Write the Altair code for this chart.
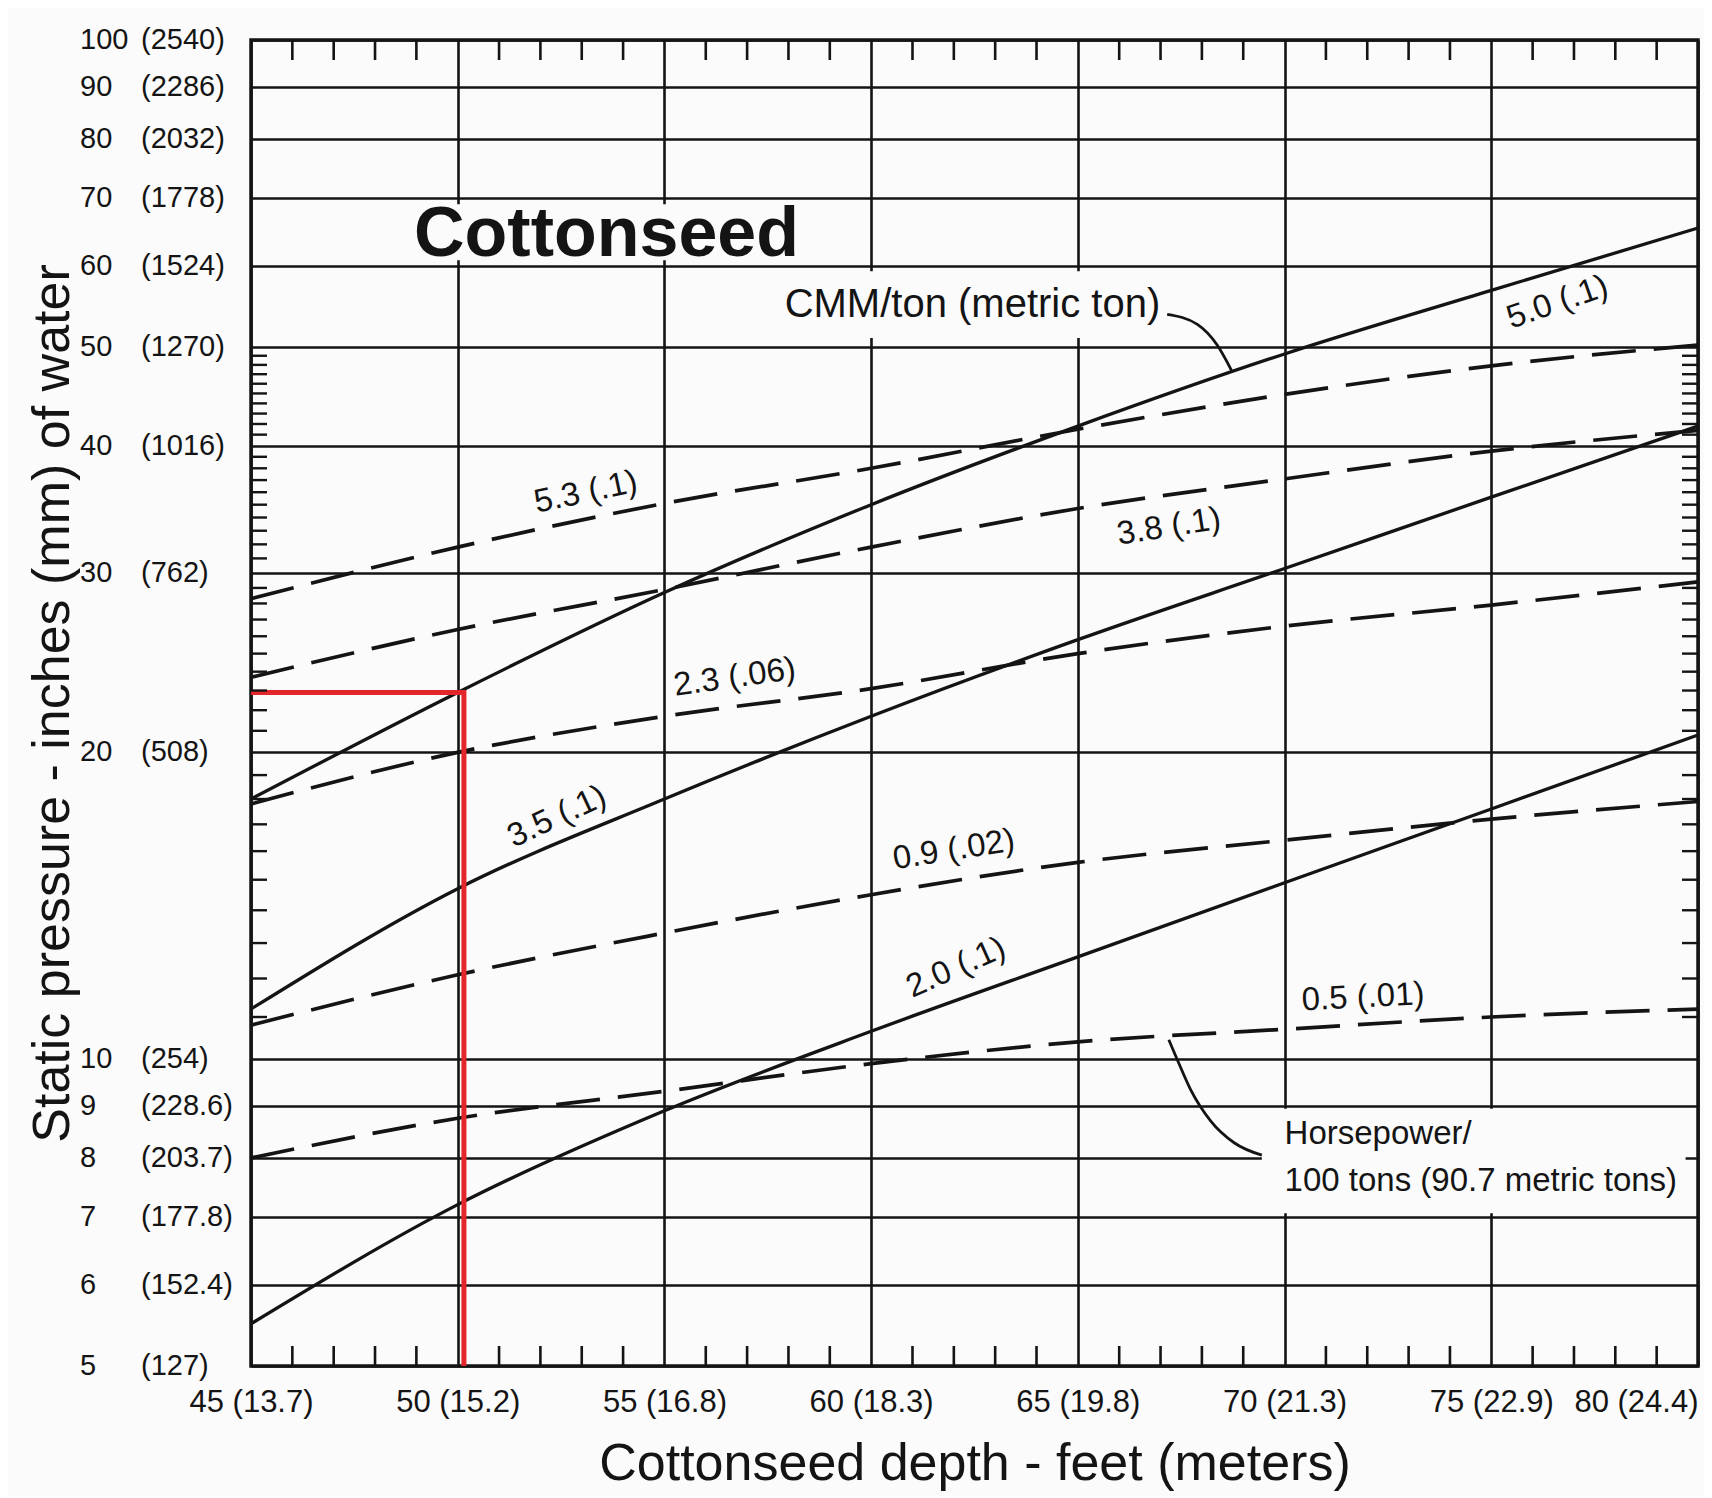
import altair as alt
import pandas as pd

# ---------------- data ----------------
depth_ft = [45, 50, 55, 60, 65, 70, 75, 80]

# CMM/ton (solid) curves, static pressure in inches of water
cmm_5_0 = [18.0, 22.9, 28.7, 35.0, 41.8, 49.2, 56.8, 65.4]
cmm_3_5 = [11.2, 14.7, 18.0, 21.7, 25.8, 30.3, 35.6, 41.8]
cmm_2_0 = [5.5, 7.2, 8.9, 10.65, 12.6, 14.9, 17.6, 20.8]

# Horsepower / 100 tons (dashed) curves
hp_5_3 = [28.3, 31.8, 35.1, 38.0, 41.5, 44.9, 47.9, 50.2]
hp_3_8 = [23.7, 26.4, 28.9, 31.8, 34.7, 37.1, 39.5, 41.4]
hp_2_3 = [17.8, 20.0, 21.7, 23.1, 25.0, 26.6, 27.9, 29.4]
hp_0_9 = [10.8, 12.1, 13.3, 14.5, 15.6, 16.4, 17.2, 17.9]
hp_0_5 = [8.0, 8.75, 9.3, 9.9, 10.4, 10.7, 11.0, 11.2]

# curve labels
label_text = ["5.3 (.1)", "3.8 (.1)", "2.3 (.06)", "3.5 (.1)", "0.9 (.02)", "2.0 (.1)", "0.5 (.01)", "5.0 (.1)"]
label_ft = [53.1, 67.2, 56.7, 52.4, 62.0, 62.05, 71.9, 76.6]
label_val = [36.0, 33.3, 23.7, 17.3, 16.05, 12.3, 11.5, 55.3]
label_angle = [348, 351, 352, 335, 351, 336, 357, 341]

# axis ticks
x_tick_ft = [45, 50, 55, 60, 65, 70, 75, 80]
x_tick_m = ["13.7", "15.2", "16.8", "18.3", "19.8", "21.3", "22.9", "24.4"]
y_tick_in = [100, 90, 80, 70, 60, 50, 40, 30, 20, 10, 9, 8, 7, 6, 5]
y_tick_mm = ["(2540)", "(2286)", "(2032)", "(1778)", "(1524)", "(1270)", "(1016)", "(762)",
             "(508)", "(254)", "(228.6)", "(203.7)", "(177.8)", "(152.4)", "(127)"]
minor_ft = [f for f in range(46, 80) if f % 5 != 0]
minor_in = [v for v in range(11, 50) if v % 10 != 0]

# red reading example
red_ft = [45, 50.15, 50.15]
red_val = [22.9, 22.9, 5]

# annotation arrows
cmm_arrow_ft = [67.16, 67.89, 68.37, 68.74]
cmm_arrow_val = [53.8, 52.6, 50.2, 47.2]
hp_arrow_ft = [67.2, 67.4, 67.73, 68.21, 68.78, 69.45]
hp_arrow_val = [10.45, 10.0, 9.33, 8.7, 8.28, 8.05]

# ---------------- styling ----------------
INK = "#141414"
BG = "#fbfbfb"
RED = "#e3262b"
SANS = "Liberation Sans, Arial, Helvetica, sans-serif"
W, H = 1447, 1326

xs = alt.Scale(domain=[45, 80], nice=False, zero=False)
ys = alt.Scale(type="log", domain=[5, 100], nice=False)


def long_df(series):
    rows = []
    for name, vals in series:
        for d, v in zip(depth_ft, vals):
            rows.append({"series": name, "ft": d, "val": v})
    return pd.DataFrame(rows)


solid_df = long_df([("5.0", cmm_5_0), ("3.5", cmm_3_5), ("2.0", cmm_2_0)])
dash_df = long_df([("5.3", hp_5_3), ("3.8", hp_3_8), ("2.3", hp_2_3), ("0.9", hp_0_9), ("0.5", hp_0_5)])

x_label_expr = " : ".join(
    f"datum.value == {f} ? '{f} ({m})'" for f, m in zip(x_tick_ft, x_tick_m)
) + " : ''"

x_axis = alt.Axis(
    values=x_tick_ft, grid=True, gridColor=INK, gridWidth=2.6, gridOpacity=1,
    ticks=False, domain=False, labelExpr=x_label_expr, labelFont=SANS,
    labelFontSize=31, labelColor=INK, labelPadding=21, labelFlush=False,
    labelAlign={"condition": {"test": "datum.value == 80", "value": "right"}, "value": "center"},
    title="Cottonseed depth - feet (meters)", titleFont=SANS, titleFontSize=52,
    titleFontWeight="normal", titleColor=INK, titleY=113, titleBaseline="alphabetic",
)
y_axis = alt.Axis(
    values=y_tick_in, grid=True, gridColor=INK, gridWidth=2.6, gridOpacity=1,
    labels=False, ticks=False, domain=False,
    title="Static pressure - inches (mm) of water", titleFont=SANS, titleFontSize=52,
    titleFontWeight="normal", titleColor=INK, titleAngle=270, titleX=-199, titleY=H / 2,
    titleAlign="center", titleBaseline="middle",
)


def X(field="ft"):
    return alt.X(f"{field}:Q", scale=xs, axis=x_axis)


def Y(field="val"):
    return alt.Y(f"{field}:Q", scale=ys, axis=y_axis)


solid = alt.Chart(solid_df).mark_line(interpolate="monotone", color=INK, strokeWidth=3.3).encode(
    x=X(), y=Y(), detail="series:N",
)
dashed = alt.Chart(dash_df).mark_line(
    interpolate="monotone", color=INK, strokeWidth=3.7, strokeDash=[44, 18]
).encode(x=X(), y=Y(), detail="series:N")

# boxes that blank out grid lines behind annotation text
box_df = pd.DataFrame({
    "ft": [48.0, 57.5, 69.45], "ft2": [58.8, 67.4, 79.7],
    "val": [60.8, 51.0, 7.06], "val2": [69.0, 59.3, 8.94],
})
boxes = alt.Chart(box_df).mark_rect(color=BG).encode(
    x=X(), x2="ft2:Q", y=Y(), y2="val2:Q",
)

lab_df = pd.DataFrame({"t": label_text, "ft": label_ft, "val": label_val, "a": label_angle})
labels = alt.Chart(lab_df).mark_text(
    font=SANS, fontSize=33, color=INK, align="center", baseline="middle"
).encode(x=X(), y=Y(), text="t:N", angle=alt.Angle("a:Q", scale=None))

ytl = pd.DataFrame({"val": y_tick_in, "num": [str(v) for v in y_tick_in], "mm": y_tick_mm})
ynum = alt.Chart(ytl).mark_text(
    font=SANS, fontSize=29, color=INK, align="left", baseline="middle"
).encode(x=alt.value(-171), y=Y(), text="num:N")
ymm = alt.Chart(ytl).mark_text(
    font=SANS, fontSize=29, color=INK, align="left", baseline="middle"
).encode(x=alt.value(-110), y=Y(), text="mm:N")

mft = pd.DataFrame({"ft": minor_ft})
min_top = alt.Chart(mft).mark_rule(color=INK, strokeWidth=2.6).encode(
    x=X(), y=alt.value(0), y2=alt.value(20))
min_bot = alt.Chart(mft).mark_rule(color=INK, strokeWidth=2.6).encode(
    x=X(), y=alt.value(H), y2=alt.value(H - 20))
mval = pd.DataFrame({"val": minor_in})
min_left = alt.Chart(mval).mark_rule(color=INK, strokeWidth=2.4).encode(
    y=Y(), x=alt.value(0), x2=alt.value(16))
min_right = alt.Chart(mval).mark_rule(color=INK, strokeWidth=2.4).encode(
    y=Y(), x=alt.value(W), x2=alt.value(W - 16))

red_df = pd.DataFrame({"ft": red_ft, "val": red_val, "i": [0, 1, 2]})
red = alt.Chart(red_df).mark_line(color=RED, strokeWidth=5).encode(
    x=X(), y=Y(), order="i:Q")

arrow_df = pd.DataFrame({
    "ft": cmm_arrow_ft + hp_arrow_ft,
    "val": cmm_arrow_val + hp_arrow_val,
    "g": ["cmm"] * len(cmm_arrow_ft) + ["hp"] * len(hp_arrow_ft),
})
arrows = alt.Chart(arrow_df).mark_line(color=INK, strokeWidth=2.8, interpolate="monotone").encode(
    x=X(), y=Y(), detail="g:N")

title_df = pd.DataFrame({"t": ["Cottonseed"], "ft": [53.6], "val": [64.4]})
title = alt.Chart(title_df).mark_text(
    font=SANS, fontSize=70, fontWeight="bold", color=INK, align="center", baseline="middle"
).encode(x=X(), y=Y(), text="t:N")

cmm_df = pd.DataFrame({"t": ["CMM/ton (metric ton)"], "ft": [62.45], "val": [54.9]})
cmm_note = alt.Chart(cmm_df).mark_text(
    font=SANS, fontSize=40, color=INK, align="center", baseline="middle"
).encode(x=X(), y=Y(), text="t:N")

hp_df = pd.DataFrame({"t": ["Horsepower/", "100 tons (90.7 metric tons)"], "ft": [70.0, 70.0], "val": [8.45, 7.6]})
hp_note = alt.Chart(hp_df).mark_text(
    font=SANS, fontSize=33, color=INK, align="left", baseline="middle"
).encode(x=X(), y=Y(), text="t:N")

chart = alt.layer(
    solid, dashed, boxes, red, labels, ynum, ymm, min_top, min_bot, min_left, min_right,
    arrows, title, cmm_note, hp_note,
).properties(
    width=W, height=H,
    autosize=alt.AutoSizeParams(type="none"),
    padding={"left": 243, "top": 32, "right": 6, "bottom": 130},
    background=BG,
).configure_view(stroke=INK, strokeWidth=3.5)

chart.save("out.html", embed_options={"renderer": "svg", "actions": False})
